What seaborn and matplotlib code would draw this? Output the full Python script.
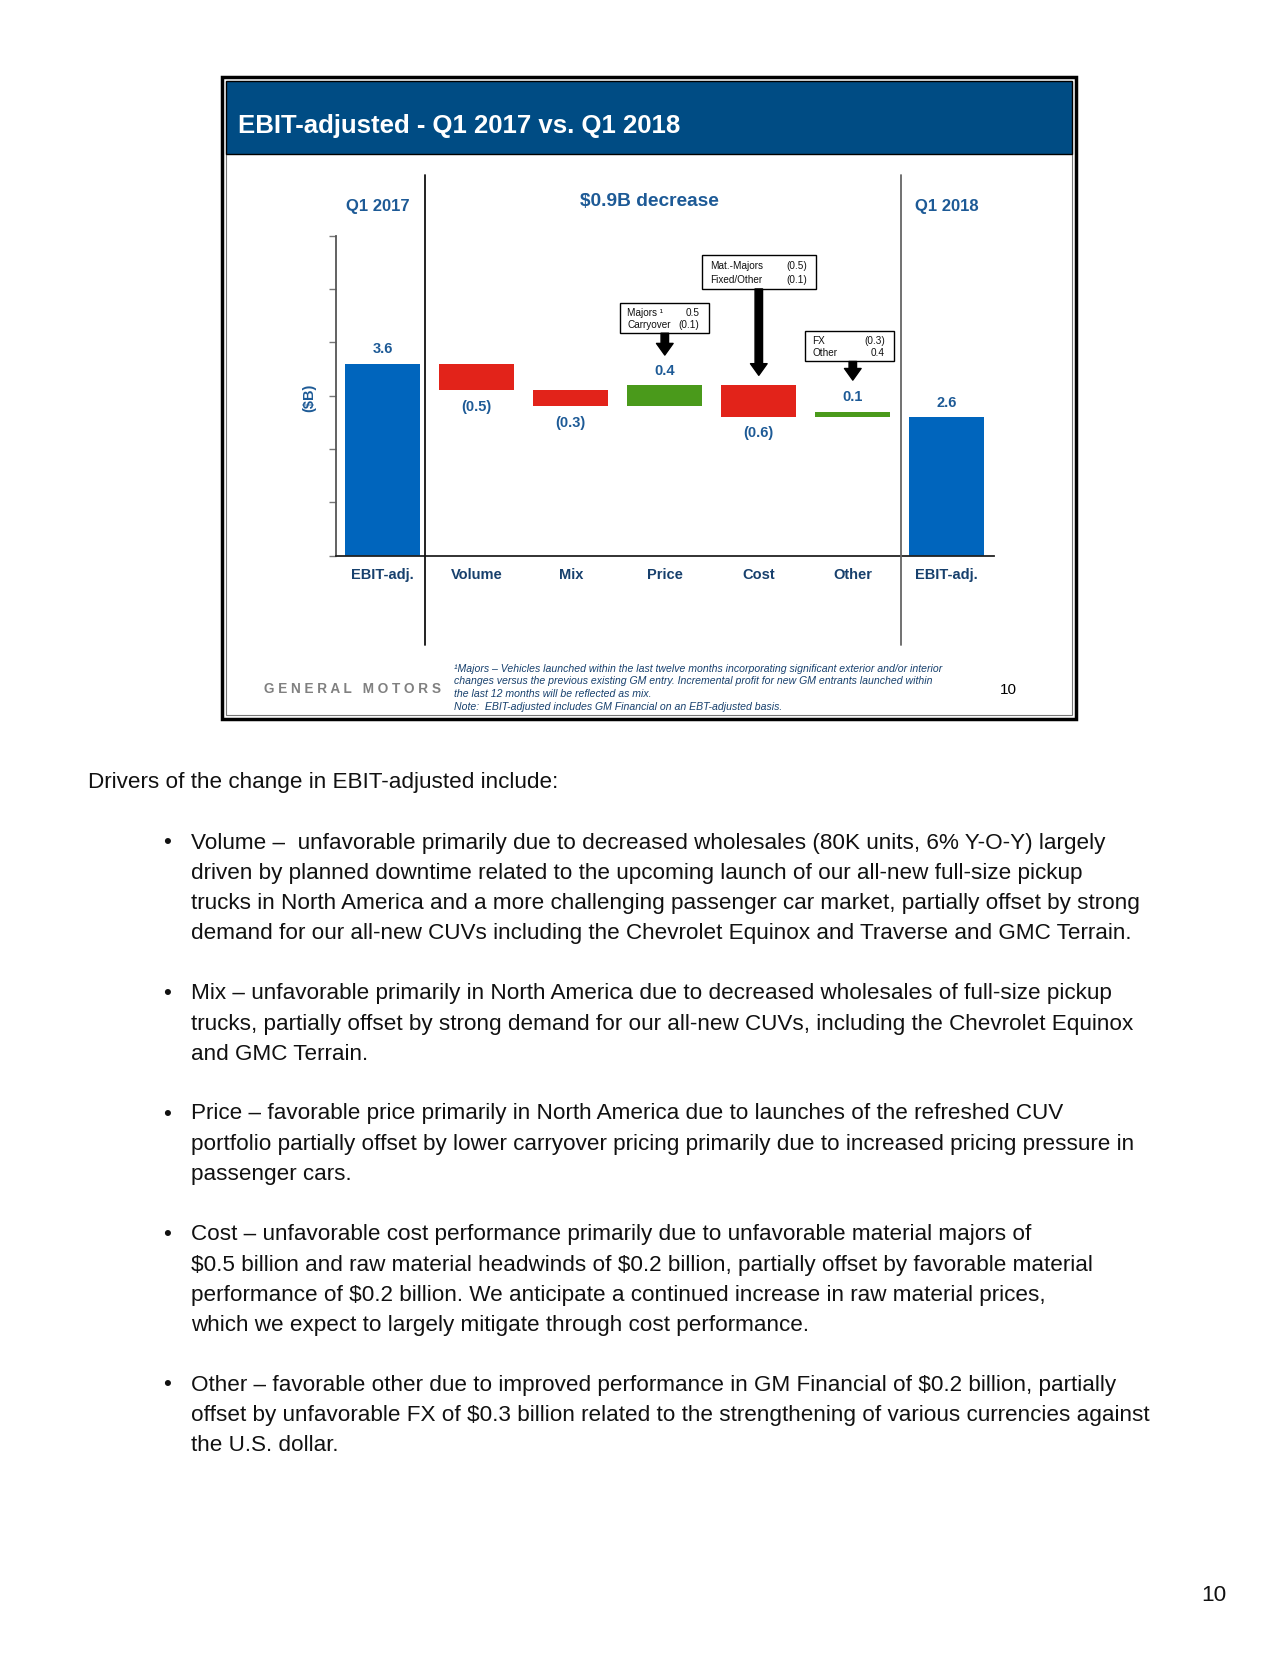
import numpy as np
import pandas as pd
import seaborn as sns
import matplotlib.pyplot as plt
from matplotlib.patches import Rectangle
from matplotlib.lines import Line2D

# chart data
categories = ["EBIT-adj.", "Volume", "Mix", "Price", "Cost", "Other", "EBIT-adj."]
values = [3.6, -0.5, -0.3, 0.4, -0.6, 0.1, 2.6]
is_total = [True, False, False, False, False, False, True]
value_labels = ["3.6", "(0.5)", "(0.3)", "0.4", "(0.6)", "0.1", "2.6"]

callout_rows = {
    "Price": [("Majors \u00b9", "0.5"), ("Carryover", "(0.1)")],
    "Cost": [("Mat.-Majors", "(0.5)"), ("Fixed/Other", "(0.1)")],
    "Other": [("FX", "(0.3)"), ("Other", "0.4")],
}

header_labels = ["Q1 2017", "$0.9B decrease", "Q1 2018"]
footnote_lines = [
    "\u00b9Majors \u2013 Vehicles launched within the last twelve months incorporating significant exterior and/or interior",
    "changes versus the previous existing GM entry. Incremental profit for new GM entrants launched within",
    "the last 12 months will be reflected as mix.",
    "Note:  EBIT-adjusted includes GM Financial on an EBT-adjusted basis.",
]

intro = "Drivers of the change in EBIT-adjusted include:"
bullets = [
    ["Volume \u2013  unfavorable primarily due to decreased wholesales (80K units, 6% Y-O-Y) largely",
     "driven by planned downtime related to the upcoming launch of our all-new full-size pickup",
     "trucks in North America and a more challenging passenger car market, partially offset by strong",
     "demand for our all-new CUVs including the Chevrolet Equinox and Traverse and GMC Terrain."],
    ["Mix \u2013 unfavorable primarily in North America due to decreased wholesales of full-size pickup",
     "trucks, partially offset by strong demand for our all-new CUVs, including the Chevrolet Equinox",
     "and GMC Terrain."],
    ["Price \u2013 favorable price primarily in North America due to launches of the refreshed CUV",
     "portfolio partially offset by lower carryover pricing primarily due to increased pricing pressure in",
     "passenger cars."],
    ["Cost \u2013 unfavorable cost performance primarily due to unfavorable material majors of",
     "$0.5 billion and raw material headwinds of $0.2 billion, partially offset by favorable material",
     "performance of $0.2 billion. We anticipate a continued increase in raw material prices,",
     "which we expect to largely mitigate through cost performance."],
    ["Other \u2013 favorable other due to improved performance in GM Financial of $0.2 billion, partially",
     "offset by unfavorable FX of $0.3 billion related to the strengthening of various currencies against",
     "the U.S. dollar."],
]

BLUE = "#0065BD"
RED = "#E2231A"
GREEN = "#4A9A1B"
NAVY = "#17406D"
HEAD = "#1D5A96"

W, H = 1280, 1656
BODY = 16.2


def fx(px):
    return px / W


def fy(py):
    return 1 - py / H


def waterfall_frame():
    rows, level = [], 0.0
    for cat, val, tot in zip(categories, values, is_total):
        if tot:
            bottom, height, colour = 0.0, val, BLUE
            level = val
        else:
            start, level = level, round(level + val, 2)
            bottom, height = min(start, level), abs(val)
            colour = GREEN if val > 0 else RED
        rows.append({"cat": cat, "bottom": bottom, "height": height, "colour": colour})
    df = pd.DataFrame(rows)
    df["key"] = [f"{i}" for i in range(len(df))]
    return df


sns.set_theme(style="white")
plt.rcParams["font.family"] = ["Liberation Sans", "DejaVu Sans"]

fig = plt.figure(figsize=(12.8, 16.56), dpi=100)

# slide frame and title band
fig.add_artist(Rectangle((fx(222), fy(720)), fx(1076 - 222), (720 - 78) / H,
                         fill=False, ec="black", lw=2.5, transform=fig.transFigure))
fig.add_artist(Rectangle((fx(226), fy(716)), fx(1072 - 226), (716 - 82) / H,
                         fill=False, ec="#777777", lw=0.8, transform=fig.transFigure))
fig.add_artist(Rectangle((fx(226), fy(155)), fx(1072 - 226), (155 - 82) / H,
                         fc="#004C84", ec="black", lw=1.0, transform=fig.transFigure))
fig.text(fx(238), fy(126), "EBIT-adjusted - Q1 2017 vs. Q1 2018", color="white",
         fontsize=18.5, fontweight="bold", va="center", ha="left")

df = waterfall_frame()
ax = fig.add_axes([fx(335.8), fy(556.6), fx(993.8 - 335.8), (556.6 - 236.6) / H])
sns.barplot(data=df, x="key", y="height", hue="key", palette=list(df["colour"]),
            saturation=1, width=0.8, legend=False, ax=ax)
for patch, b, h in zip(ax.patches, df["bottom"], df["height"]):
    patch.set_y(b)
    patch.set_height(h)
    patch.set_edgecolor("none")

ax.set_xlim(-0.5, 6.5)
ax.set_ylim(0, 6)
ax.set_xticks(range(len(categories)))
ax.set_xticklabels(categories, color=NAVY, fontsize=10.5, fontweight="bold")
ax.set_yticks(range(7))
ax.set_yticklabels([])
ax.tick_params(axis="x", length=0, pad=8)
ax.tick_params(axis="y", length=5, width=1, color="#777777", left=True)
ax.set_xlabel("")
ax.set_ylabel("")
for side in ["top", "right"]:
    ax.spines[side].set_visible(False)
ax.spines["left"].set_color("#555555")
ax.spines["left"].set_linewidth(1.3)
ax.spines["bottom"].set_color("#222222")
ax.spines["bottom"].set_linewidth(1.3)

# value labels
for i, row in df.iterrows():
    top = row["bottom"] + row["height"]
    val = values[i]
    if val >= 0:
        ax.annotate(value_labels[i], (i, top), xytext=(0, 11), textcoords="offset points",
                    ha="center", va="center", color=HEAD, fontsize=10.5, fontweight="bold")
    else:
        ax.annotate(value_labels[i], (i, row["bottom"]), xytext=(0, -11), textcoords="offset points",
                    ha="center", va="center", color=HEAD, fontsize=10.5, fontweight="bold")

# callout boxes with arrows (box spans in data coords: x0, x1, y0, y1, arrow tip y)
callout_layout = {
    "Price": (2.52, 3.47, 4.17, 4.73, 3.76),
    "Cost": (3.40, 4.61, 5.00, 5.64, 3.38),
    "Other": (4.49, 5.44, 3.64, 4.21, 3.29),
}
for cat, rows in callout_rows.items():
    idx = categories.index(cat)
    x0, x1, y0, y1, tip = callout_layout[cat]
    ax.add_patch(Rectangle((x0, y0), x1 - x0, y1 - y0, fill=False, ec="black", lw=1.0,
                           clip_on=False, zorder=5))
    for r, (name, num) in enumerate(rows):
        yy = y1 - (y1 - y0) * (0.3 + 0.4 * r)
        ax.text(x0 + 0.08, yy, name, fontsize=7.2, va="center", ha="left", color="#111111")
        ax.text(x1 - 0.1, yy, num, fontsize=7.2, va="center", ha="right", color="#111111")
    ax.annotate("", xy=(idx, tip), xytext=(idx, y0), annotation_clip=False,
                arrowprops=dict(arrowstyle="simple,head_length=0.7,head_width=1.0,tail_width=0.45",
                                fc="black", ec="black", mutation_scale=12, shrinkA=0, shrinkB=0))

# headers and separators
fig.text(fx(378), fy(206), header_labels[0], color=HEAD, fontsize=12, fontweight="bold",
         ha="center", va="center")
fig.text(fx(649.5), fy(201), header_labels[1], color=HEAD, fontsize=13.8, fontweight="bold",
         ha="center", va="center", parse_math=False)
fig.text(fx(947), fy(206), header_labels[2], color=HEAD, fontsize=12, fontweight="bold",
         ha="center", va="center")
fig.text(fx(309), fy(398), "($B)", color=HEAD, fontsize=10.5, fontweight="bold",
         rotation=90, ha="center", va="center", parse_math=False)
fig.add_artist(Line2D([fx(424.6), fx(424.6)], [fy(176), fy(646)], color="#111111", lw=1.3))
fig.add_artist(Line2D([fx(900.8), fx(900.8)], [fy(176), fy(646)], color="#666666", lw=1.3))

# slide footer
fig.text(fx(264), fy(689), "G E N E R A L   M O T O R S", color="#808080", fontsize=9.8,
         fontweight="bold", ha="left", va="center")
for k, line in enumerate(footnote_lines):
    fig.text(fx(454), fy(668.5 + 12.7 * k), line, color=NAVY, fontsize=7.6, style="italic",
             ha="left", va="center")
fig.text(fx(1008), fy(690), "10", color="black", fontsize=11, ha="center", va="center")

# body text
fig.text(fx(88), fy(783), intro, fontsize=BODY, ha="left", va="center", color="#111111")
para_starts = [843, 994, 1114, 1235, 1385]
line_gap = 30.2
for start, lines in zip(para_starts, bullets):
    fig.text(fx(167), fy(start), "\u2022", fontsize=BODY, ha="center", va="center", color="#111111")
    for j, line in enumerate(lines):
        fig.text(fx(191), fy(start + j * line_gap), line, fontsize=BODY, ha="left", va="center",
                 color="#111111", parse_math=False)
fig.text(fx(1214), fy(1596), "10", fontsize=BODY, ha="center", va="center", color="#111111")

fig.savefig("out.png", dpi=100, facecolor="white")
